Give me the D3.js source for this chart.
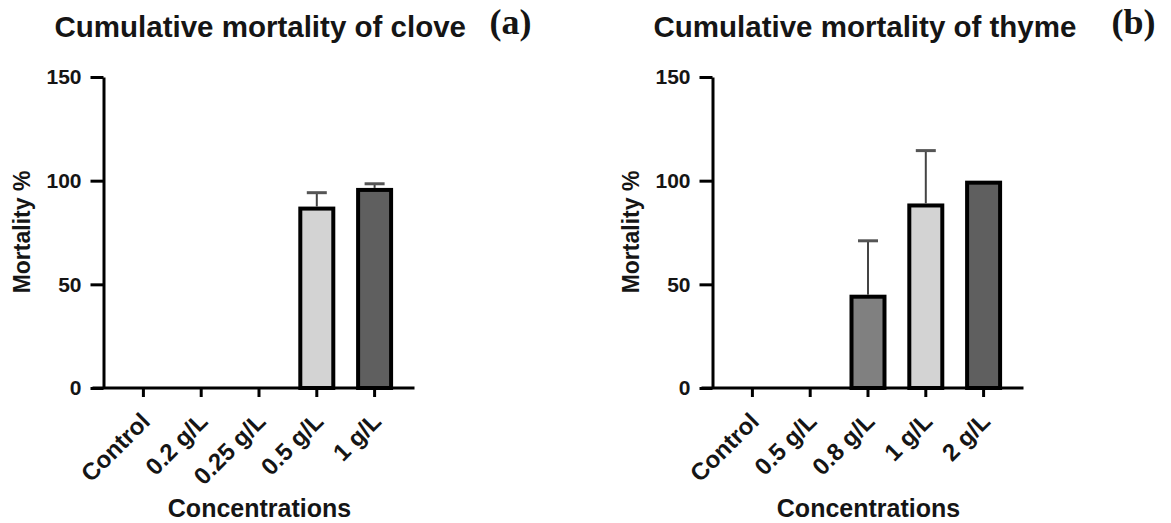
<!DOCTYPE html>
<html>
<head>
<meta charset="utf-8">
<script src="https://cdn.jsdelivr.net/npm/d3@7"></script>
<style>
body{margin:0;background:#fff}
text{font-family:"Liberation Sans",Arial,sans-serif;font-weight:bold;fill:#151515}
</style>
</head>
<body>
<svg id="chart"></svg>
<script>
var cloveCategories = ["Control","0.2 g/L","0.25 g/L","0.5 g/L","1 g/L"]
var cloveMeans = [0,0,0,87.5,96.5]
var cloveErrors = [0,0,0,6.7,2]
var cloveColors = ["#d3d3d3","#d3d3d3","#d3d3d3","#d3d3d3","#5f5f5f"]

var thymeCategories = ["Control","0.5 g/L","0.8 g/L","1 g/L","2 g/L"]
var thymeMeans = [0,0,45,89,100]
var thymeErrors = [0,0,26,25.5,0]
var thymeColors = ["#d3d3d3","#d3d3d3","#808080","#d3d3d3","#5f5f5f"]

var yTicks = [0,50,100,150]

var svgw = 1171
var svgh = 523

var makeTranslateString = function(x,y)
{
    return "translate("+x+","+y+")";
}

var yscale = d3.scaleLinear()
    .domain([0,150])
    .range([388,77])

var drawPanel = function(svg, panel)
{
    var ax = panel.axisX
    var g = svg.append("g")

    var xscale = d3.scaleBand()
        .domain(panel.categories)
        .range([ax+11, ax+300])
        .paddingInner(0.36)
        .paddingOuter(0.18)

    var rows = panel.categories.map(function(c,i){
        return {cat:c, mean:panel.means[i], err:panel.errors[i], color:panel.colors[i]}
    })

    // bars
    g.selectAll("rect.bar")
        .data(rows.filter(function(d){return d.mean>0}))
        .enter()
        .append("rect")
        .classed("bar",true)
        .attr("x",function(d){return xscale(d.cat)+2})
        .attr("y",function(d){return yscale(d.mean)+2})
        .attr("width",xscale.bandwidth()-4)
        .attr("height",function(d){return yscale(0)-yscale(d.mean)-2})
        .attr("fill",function(d){return d.color})
        .attr("stroke","#000")
        .attr("stroke-width",4)

    // error bars (upper only)
    var errs = g.selectAll("g.err")
        .data(rows.filter(function(d){return d.err>0}))
        .enter()
        .append("g")
        .classed("err",true)
    errs.append("line")
        .attr("x1",function(d){return xscale(d.cat)+xscale.bandwidth()/2})
        .attr("x2",function(d){return xscale(d.cat)+xscale.bandwidth()/2})
        .attr("y1",function(d){return yscale(d.mean)})
        .attr("y2",function(d){return yscale(d.mean+d.err)})
        .attr("stroke","#444")
        .attr("stroke-width",2)
    errs.append("line")
        .attr("x1",function(d){return xscale(d.cat)+xscale.bandwidth()/2-10})
        .attr("x2",function(d){return xscale(d.cat)+xscale.bandwidth()/2+10})
        .attr("y1",function(d){return yscale(d.mean+d.err)})
        .attr("y2",function(d){return yscale(d.mean+d.err)})
        .attr("stroke","#555")
        .attr("stroke-width",3)

    // y axis
    var yAxis = d3.axisLeft(yscale)
        .tickValues(yTicks)
        .tickSize(13)
        .tickSizeOuter(0)
        .tickPadding(9)
    var ya = g.append("g")
        .attr("transform",makeTranslateString(ax,0))
        .call(yAxis)
    ya.select(".domain").attr("stroke","#000").attr("stroke-width",3)
    ya.selectAll(".tick line").attr("stroke","#000").attr("stroke-width",3)
    ya.selectAll(".tick text")
        .style("font-size","21px")
        .attr("fill","#151515")

    // x axis
    var xAxis = d3.axisBottom(xscale)
        .tickSize(9)
        .tickSizeOuter(0)
    var xa = g.append("g")
        .attr("transform",makeTranslateString(0,yscale(0)))
        .call(xAxis)
    xa.select(".domain").remove()
    xa.append("line")
        .attr("x1",ax-11)
        .attr("x2",ax+311)
        .attr("stroke","#000")
        .attr("stroke-width",3)
    xa.selectAll(".tick line").attr("stroke","#000").attr("stroke-width",3)
    xa.selectAll(".tick text")
        .attr("x",0)
        .attr("y",0)
        .attr("dy",null)
        .attr("text-anchor","end")
        .attr("transform","translate(8,35) rotate(-45)")
        .style("font-size","24px")
        .attr("fill","#151515")

    // labels
    g.append("text")
        .text(panel.title)
        .attr("x",ax+panel.titleDx)
        .attr("y",37)
        .style("font-size","29.5px")

    g.append("text")
        .text(panel.tag)
        .attr("x",ax+panel.tagDx)
        .attr("y",34)
        .style("font-family","'Liberation Serif','Times New Roman',serif")
        .style("font-size","36px")

    g.append("text")
        .text("Mortality %")
        .attr("text-anchor","middle")
        .attr("transform",makeTranslateString(ax-74,232)+" rotate(-90)")
        .style("font-size","23px")

    g.append("text")
        .text("Concentrations")
        .attr("text-anchor","middle")
        .attr("x",ax+156)
        .attr("y",517)
        .style("font-size","25px")
}

var svg = d3.select("#chart")
    .attr("width",svgw)
    .attr("height",svgh)

drawPanel(svg,{
    axisX:103.5,
    categories:cloveCategories,
    means:cloveMeans,
    errors:cloveErrors,
    colors:cloveColors,
    title:"Cumulative mortality of clove",
    titleDx:-49,
    tag:"(a)",
    tagDx:386
})
drawPanel(svg,{
    axisX:712.5,
    categories:thymeCategories,
    means:thymeMeans,
    errors:thymeErrors,
    colors:thymeColors,
    title:"Cumulative mortality of thyme",
    titleDx:-59,
    tag:"(b)",
    tagDx:399
})
</script>
</body>
</html>
